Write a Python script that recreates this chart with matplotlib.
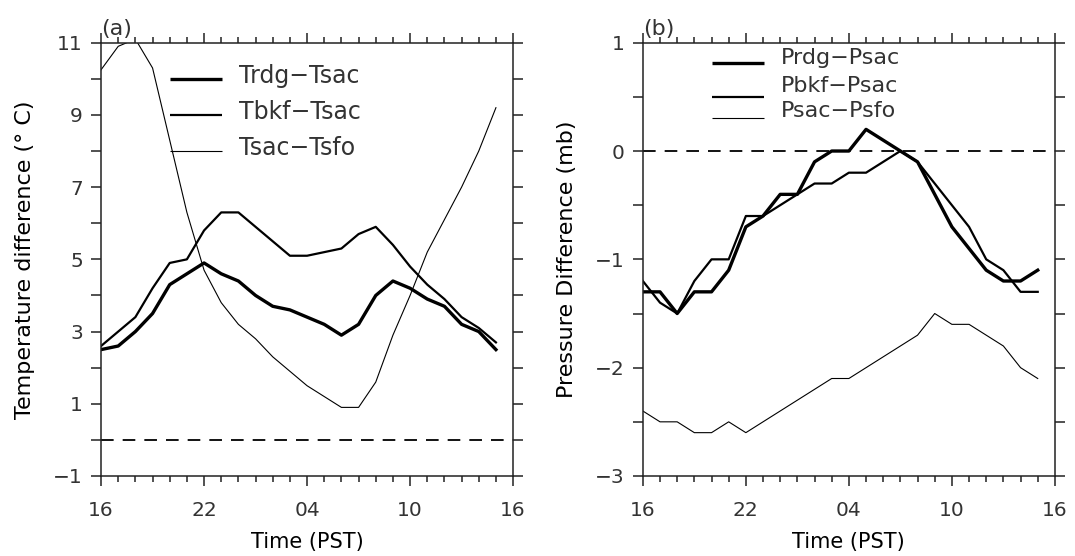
import numpy as np
import matplotlib
matplotlib.use("Agg")
import matplotlib.pyplot as plt
from matplotlib.ticker import MultipleLocator, FixedLocator

# hours after 16 PST
hours = np.arange(24)
tick_pos = [0, 6, 12, 18, 24]
tick_lab = ['16', '22', '04', '10', '16']

# (a) temperature differences (deg C)
trdg_tsac = [2.5, 2.6, 3.0, 3.5, 4.3, 4.6, 4.9, 4.6, 4.4, 4.0, 3.7, 3.6,
             3.4, 3.2, 2.9, 3.2, 4.0, 4.4, 4.2, 3.9, 3.7, 3.2, 3.0, 2.5]
tbkf_tsac = [2.6, 3.0, 3.4, 4.2, 4.9, 5.0, 5.8, 6.3, 6.3, 5.9, 5.5, 5.1,
             5.1, 5.2, 5.3, 5.7, 5.9, 5.4, 4.8, 4.3, 3.9, 3.4, 3.1, 2.7]
tsac_tsfo = [10.25, 10.9, 11.1, 10.3, 8.3, 6.3, 4.7, 3.8, 3.2, 2.8, 2.3, 1.9,
             1.5, 1.2, 0.9, 0.9, 1.6, 2.9, 4.0, 5.2, 6.1, 7.0, 8.0, 9.2]

# (b) pressure differences (mb)
prdg_psac = [-1.3, -1.3, -1.5, -1.3, -1.3, -1.1, -0.7, -0.6, -0.4, -0.4, -0.1, 0.0,
             0.0, 0.2, 0.1, 0.0, -0.1, -0.4, -0.7, -0.9, -1.1, -1.2, -1.2, -1.1]
pbkf_psac = [-1.2, -1.4, -1.5, -1.2, -1.0, -1.0, -0.6, -0.6, -0.5, -0.4, -0.3, -0.3,
             -0.2, -0.2, -0.1, 0.0, -0.1, -0.3, -0.5, -0.7, -1.0, -1.1, -1.3, -1.3]
psac_psfo = [-2.4, -2.5, -2.5, -2.6, -2.6, -2.5, -2.6, -2.5, -2.4, -2.3, -2.2, -2.1,
             -2.1, -2.0, -1.9, -1.8, -1.7, -1.5, -1.6, -1.6, -1.7, -1.8, -2.0, -2.1]

labels_a = ['Trdg\u2212Tsac', 'Tbkf\u2212Tsac', 'Tsac\u2212Tsfo']
labels_b = ['Prdg\u2212Psac', 'Pbkf\u2212Psac', 'Psac\u2212Psfo']
widths = [2.4, 1.6, 0.8]

txtc = '#333333'
plt.rcParams['font.family'] = ['DejaVu Sans']
plt.rcParams['text.color'] = txtc

fig = plt.figure(figsize=(10.75, 5.56), dpi=100)
axa = fig.add_axes([0.094, 0.1439, 0.3833, 0.7793])
axb = fig.add_axes([0.598, 0.1439, 0.3833, 0.7793])


def style(ax, ylim, major, minor):
    ax.set_xlim(0, 24)
    ax.set_ylim(*ylim)
    ax.xaxis.set_major_locator(FixedLocator(tick_pos))
    ax.set_xticklabels(tick_lab)
    ax.xaxis.set_minor_locator(MultipleLocator(1))
    ax.yaxis.set_major_locator(MultipleLocator(major))
    ax.yaxis.set_minor_locator(MultipleLocator(minor))
    ax.tick_params(which='both', direction='out', top=True, right=True,
                   width=1.1, color='#222222', labelsize=14.5, labelcolor=txtc)
    ax.tick_params(axis='x', which='major', length=7, pad=11)
    ax.tick_params(axis='x', which='minor', length=4)
    ax.tick_params(axis='y', which='both', length=7, pad=6)
    for s in ax.spines.values():
        s.set_linewidth(1.1)
        s.set_color('#222222')
    ax.axhline(0, color='black', lw=1.3, ls=(0, (7, 5)))
    ax.set_xlabel('Time (PST)', fontsize=15, labelpad=9)


def legend(ax, labels, ys, tys, fs):
    for lab, lw, y, ty in zip(labels, widths, ys, tys):
        ax.plot([0.167, 0.293], [y, y], color='black', lw=lw,
                transform=ax.transAxes, solid_capstyle='butt')
        ax.text(0.335, ty, lab, transform=ax.transAxes, fontsize=fs,
                va='center', ha='left')


for series, lw in zip([trdg_tsac, tbkf_tsac, tsac_tsfo], widths):
    axa.plot(hours, series, color='black', lw=lw)
style(axa, (-1, 11), 2, 1)
axa.yaxis.set_major_locator(FixedLocator([-1, 1, 3, 5, 7, 9, 11]))
axa.set_ylabel('Temperature difference (\u00b0 C)', fontsize=16, labelpad=13)
legend(axa, labels_a, [0.916, 0.833, 0.750], [0.922, 0.839, 0.756], 17)
axa.text(0.0, 1.008, '(a)', transform=axa.transAxes, fontsize=16,
         ha='left', va='bottom')

for series, lw in zip([prdg_psac, pbkf_psac, psac_psfo], widths):
    axb.plot(hours, series, color='black', lw=lw)
style(axb, (-3, 1), 1, 0.5)
axb.set_ylabel('Pressure Difference (mb)', fontsize=16, labelpad=13)
legend(axb, labels_b, [0.953, 0.875, 0.826], [0.965, 0.899, 0.842], 16)
axb.text(0.0, 1.008, '(b)', transform=axb.transAxes, fontsize=16,
         ha='left', va='bottom')

fig.savefig('out.png', dpi=100)
